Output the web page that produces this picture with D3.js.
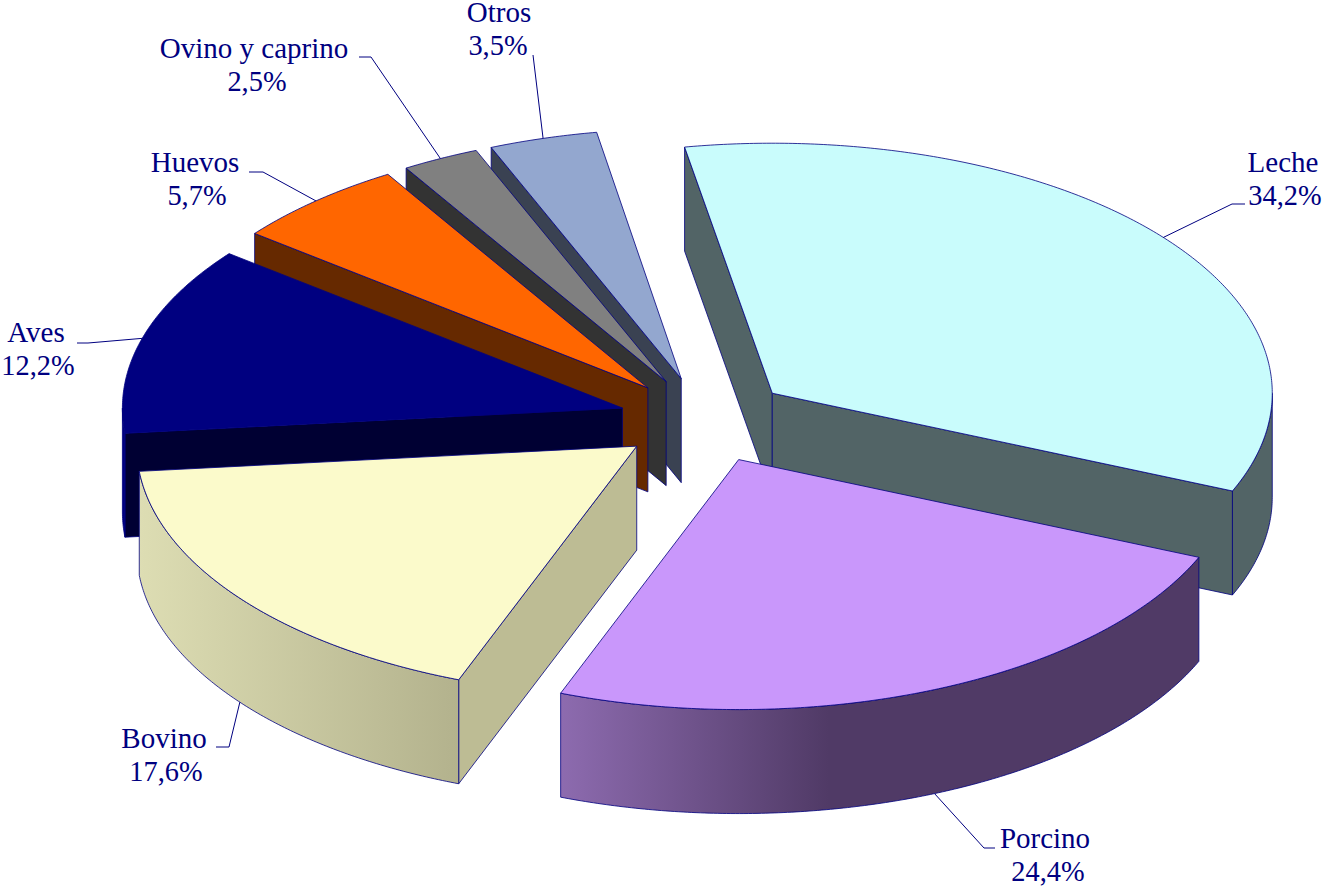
<!DOCTYPE html>
<html><head><meta charset="utf-8">
<script src="https://cdn.jsdelivr.net/npm/d3@7"></script>
<style>html,body{margin:0;padding:0;background:#fff;overflow:hidden}svg{display:block}</style>
</head><body><svg id="c" width="1324" height="887"></svg>
<script>
// Data
const categories = ["Leche","Porcino","Bovino","Aves","Huevos","Ovino y caprino","Otros"];
const shares = [34.2,24.4,17.6,12.2,5.7,2.5,3.5];
const shareLabels = ["34,2%","24,4%","17,6%","12,2%","5,7%","2,5%","3,5%"];
const topColors = ["#C9FCFC","#C997FB","#FBFACB","#000080","#FF6600","#808080","#93A7CF"];
const faceColors = ["#526466","#503A66","#BDBC94","#000033","#662900","#333333","#3A4252"];
const outerStops = [
  [[0,"#526466"],[1,"#526466"]],
  [[0,"#8D6BAF"],[0.42,"#503A66"],[1,"#503A66"]],
  [[0,"#DDDDB3"],[1,"#B3B28D"]],
  [[0,"#000080"],[1,"#000080"]],
  [[0,"#662900"],[1,"#662900"]],
  [[0,"#333333"],[1,"#333333"]],
  [[0,"#3A4252"],[1,"#3A4252"]]
];
// Layout
const cx=705, cy=420, rx=500, ry=250, depth=104, explode=0.172, startDeg=-10.1;
const labelPos = [[1283,172],[1045,848],[164,748],[36,342],[195,172],[254,58],[499,22]];
const shareDx = [2,3,2,2,2,3,-1];
const leaderMid = [[[1232,204],[1245,204]],[[984,848],[995,848]],[[229,747],[216,747]],[[88,343],[77,343]],[[263,172],[249,172]],[[371,57],[359,57]],[[533,55]]];
const lineH=33, navy="#000080", fontPx=29, shareFontPx=28.4;

const x=d3.scaleLinear().domain([-1,1]).range([cx-rx,cx+rx]);
const y=d3.scaleLinear().domain([-1,1]).range([cy+ry,cy-ry]);
const svg=d3.select("#c");
const defs=svg.append("defs");
const a0=startDeg*Math.PI/180;
// each percentage point is 3.6 degrees; the printed shares add up to 100.1
const angle=d3.scaleLinear().domain([0,100]).range([a0,a0+2*Math.PI]);
const ends=Array.from(d3.cumsum(shares));
const arcs=shares.map((v,i)=>({startAngle:angle(ends[i]-v),endAngle:angle(ends[i])}));
const line=d3.line();
const step=Math.PI/360;

const slices=arcs.map((d,i)=>{
  const mid=(d.startAngle+d.endAngle)/2;
  const ox=explode*Math.sin(mid), oy=explode*Math.cos(mid);
  const P=(a,r=1,dz=0)=>[x(ox+r*Math.sin(a)),y(oy+r*Math.cos(a))+dz];
  return {i,mid,s:d.startAngle,e:d.endAngle,P};
}).sort((p,q)=>Math.cos(q.mid)-Math.cos(p.mid));

const arcPts=(P,a,b,dz=0)=>{const n=Math.max(2,Math.ceil((b-a)/step));return d3.range(n+1).map(k=>P(a+(b-a)*k/n,1,dz));};

outerStops.forEach((st,i)=>{
  const g=defs.append("linearGradient").attr("id","g"+i).attr("x1",0).attr("x2",1).attr("y1",0).attr("y2",0);
  st.forEach(s=>g.append("stop").attr("offset",s[0]).attr("stop-color",s[1]));
});

const pieG=svg.append("g").attr("stroke",navy).attr("stroke-width",1).attr("stroke-opacity",0.8).attr("stroke-linejoin","round");
slices.forEach(sl=>{
  const {i,s,e,P}=sl, g=pieG.append("g");
  const face=(a)=>{
    const o=P(0,0), r=P(a), o2=P(0,0,depth), r2=P(a,1,depth);
    g.append("path").attr("d",line([o,r,r2,o2])+"Z").attr("fill",faceColors[i]);
  };
  if(Math.sin(s)<0) face(s);
  if(Math.sin(e)>0) face(e);
  // outer wall: the part of the rim between 90° and 270° faces the viewer
  const from=Math.max(s,Math.PI/2), to=Math.min(e,3*Math.PI/2);
  if(to>from){
    const pts=arcPts(P,from,to).concat(arcPts(P,from,to,depth).reverse());
    g.append("path").attr("d",line(pts)+"Z").attr("fill",`url(#g${i})`);
  }
  const top=[P(0,0)].concat(arcPts(P,s,e));
  g.append("path").attr("d",line(top)+"Z").attr("fill",topColors[i]);
});

// Leaders and labels
const lab=svg.append("g");
arcs.forEach((d,i)=>{
  const sl=slices.find(q=>q.i===i);
  const c=Math.cos(sl.mid);
  const start=sl.P(sl.mid,1,c<0?depth:0);
  lab.append("path").attr("d",line([start,...leaderMid[i]])).attr("fill","none").attr("stroke",navy).attr("stroke-width",1);
  const t=lab.append("text").attr("text-anchor","middle").attr("fill",navy)
    .attr("font-family","'Liberation Serif',serif").attr("font-size",fontPx);
  t.append("tspan").attr("x",labelPos[i][0]).attr("y",labelPos[i][1]).text(categories[i]);
  t.append("tspan").attr("x",labelPos[i][0]+shareDx[i]).attr("y",labelPos[i][1]+lineH).attr("font-size",shareFontPx).text(shareLabels[i]);
});
</script></body></html>
